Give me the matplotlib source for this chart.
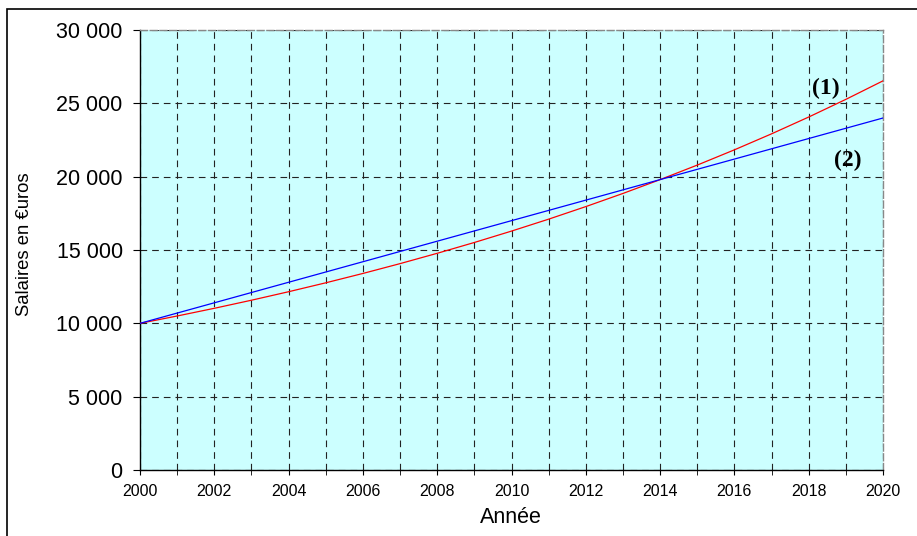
import matplotlib
matplotlib.use("Agg")
import matplotlib.pyplot as plt
from matplotlib.ticker import FuncFormatter, MultipleLocator
from matplotlib.patches import Rectangle

years = list(range(2000, 2021))
serie1 = [10000, 10500, 11025, 11576, 12155, 12763, 13401, 14071, 14775, 15513,
          16289, 17103, 17959, 18856, 19799, 20789, 21829, 22920, 24066, 25270, 26533]
serie2 = [10000, 10700, 11400, 12100, 12800, 13500, 14200, 14900, 15600, 16300,
          17000, 17700, 18400, 19100, 19800, 20500, 21200, 21900, 22600, 23300, 24000]
xticks = list(range(2000, 2021, 2))
yticks = [0, 5000, 10000, 15000, 20000, 25000, 30000]
labels = ["(1)", "(2)"]

plt.rcParams['font.family'] = ['Liberation Sans', 'DejaVu Sans']

W, H = 917, 536
fig = plt.figure(figsize=(W/100, H/100), dpi=100)
ax = fig.add_axes([140/W, 1-470/H, 743/W, 440/H])
ax.set_facecolor('#CCFFFF')

fig.patches.append(Rectangle((7/W, -0.1), 1.2, 1-9/H+0.1, transform=fig.transFigure,
                             fill=False, edgecolor='black', linewidth=1.2))

ax.plot(years, serie1, color='#FF0000', linewidth=0.9, zorder=3)
ax.plot(years, serie2, color='#0000FF', linewidth=0.9, zorder=3)

ax.set_xlim(2000, 2020)
ax.set_ylim(0, 30000)
ax.set_xticks(xticks)
ax.xaxis.set_minor_locator(MultipleLocator(1))
ax.set_yticks(yticks)
ax.yaxis.set_major_formatter(FuncFormatter(lambda v, p: f"{int(v):,}".replace(",", " ")))

ax.grid(True, which='both', axis='x', color='#222222', linestyle=(0, (6, 4.5)), linewidth=0.8)
ax.grid(True, which='major', axis='y', color='#222222', linestyle=(0, (6, 4.5)), linewidth=0.8)
ax.set_axisbelow(True)

for s in ['top', 'right']:
    ax.spines[s].set_color('#888888')
    ax.spines[s].set_linestyle((0, (5, 2)))
    ax.spines[s].set_linewidth(1.0)
for s in ['left', 'bottom']:
    ax.spines[s].set_color('black')
    ax.spines[s].set_linewidth(1.0)

ax.tick_params(axis='y', which='major', direction='out', length=5, labelsize=15.5, pad=7.5)
ax.tick_params(axis='x', which='both', direction='out', length=3.6, labelsize=11.5, pad=6.5)

fig.text(511/W, 1-523/H, "Année", fontsize=15.5, ha='center', va='baseline')
fig.text(25/W, 1-244/H, "Salaires en €uros", fontsize=13.3, rotation=90,
         ha='center', va='center')

ax.text(2018.45, 26000, labels[0], fontsize=17, fontweight='bold',
        family=['Liberation Serif', 'DejaVu Serif'], ha='center', va='center')
ax.text(2019.05, 21100, labels[1], fontsize=17, fontweight='bold',
        family=['Liberation Serif', 'DejaVu Serif'], ha='center', va='center')

fig.savefig("out.png", dpi=100)
